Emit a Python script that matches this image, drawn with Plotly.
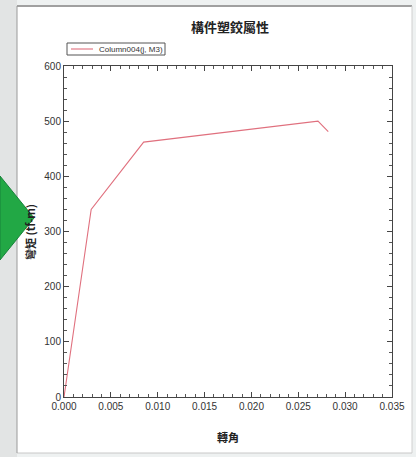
import plotly.graph_objects as go

# Data (rotation vs moment)
rotation = [0.0, 0.0029, 0.0085, 0.0271, 0.0282]
moment = [0, 340, 462, 500, 481]
series_name = "Column004(j, M3)"
chart_title = "構件塑鉸屬性"
x_title = "轉角"
y_title = "彎矩 (tf-m)"
x_ticks = [0.000, 0.005, 0.010, 0.015, 0.020, 0.025, 0.030, 0.035]
y_ticks = [0, 100, 200, 300, 400, 500, 600]
line_color = "#e0707e"

W, H = 416, 457
L, R, T, B = 64, 24, 66, 60
pw, ph = W - L - R, H - T - B

def px(x):
    return (x - L) / pw

def py(y):
    return (H - B - y) / ph

fig = go.Figure()
fig.add_trace(go.Scatter(
    x=rotation, y=moment, mode="lines", name=series_name,
    line=dict(color=line_color, width=1.1), showlegend=False,
))

shapes = [
    dict(type="rect", xref="paper", yref="paper", x0=px(17), x1=px(412), y0=py(6), y1=py(453),
         fillcolor="white", line=dict(width=0), layer="below"),
    dict(type="line", xref="paper", yref="paper", x0=px(17), x1=px(412), y0=py(6), y1=py(6),
         line=dict(color="#a0a0a0", width=2), layer="below"),
    dict(type="line", xref="paper", yref="paper", x0=px(412), x1=px(412), y0=py(6), y1=py(453),
         line=dict(color="#d0d0d0", width=1), layer="below"),
    dict(type="line", xref="paper", yref="paper", x0=px(17), x1=px(412), y0=py(453), y1=py(453),
         line=dict(color="#c8c8c8", width=1), layer="below"),
    dict(type="rect", xref="paper", yref="paper", x0=px(0), x1=px(17), y0=py(0), y1=py(457),
         fillcolor="#e2e4e4", line=dict(width=0), layer="below"),
    dict(type="line", xref="paper", yref="paper", x0=px(17), x1=px(17), y0=py(6), y1=py(453),
         line=dict(color="#9a9a9a", width=1), layer="below"),
    # legend box (drawn manually to match the compact original)
    dict(type="rect", xref="paper", yref="paper", x0=px(67), x1=px(165), y0=py(43), y1=py(55),
         fillcolor="white", line=dict(color="#555555", width=1), layer="above"),
    dict(type="line", xref="paper", yref="paper", x0=px(71), x1=px(93), y0=py(49), y1=py(49),
         line=dict(color=line_color, width=1.1), layer="above"),
    # green arrow
    dict(type="path", xref="paper", yref="paper",
         path=f"M {px(0)},{py(176)} L {px(34)},{py(218)} L {px(0)},{py(260)} Z",
         fillcolor="#22a845", line=dict(color="#17823a", width=1), layer="above"),
]

fig.update_layout(
    width=W, height=H,
    margin=dict(l=L, r=R, t=T, b=B),
    paper_bgcolor="#eef1f1",
    plot_bgcolor="white",
    shapes=shapes,
    showlegend=False,
    font=dict(family="Liberation Sans", color="#333333"),
    annotations=[
        dict(text=series_name, xref="paper", yref="paper", x=px(97), y=py(49),
             xanchor="left", yanchor="middle", showarrow=False,
             font=dict(family="Liberation Sans", size=8, color="#333333")),
        dict(text=f"<b>{chart_title}</b>", xref="paper", yref="paper", x=px(230), y=py(27),
             xanchor="center", yanchor="middle",
             showarrow=False, font=dict(family="Noto Sans CJK TC", size=13, color="#222222")),
        dict(text=f"<b>{x_title}</b>", xref="paper", yref="paper", x=px(228), y=py(437),
             xanchor="center", yanchor="middle",
             showarrow=False, font=dict(family="Noto Sans CJK TC", size=11, color="#222222")),
        dict(text=f"<b>{y_title}</b>", xref="paper", yref="paper", x=px(30), y=py(232), textangle=-90,
             xanchor="center", yanchor="middle",
             showarrow=False, font=dict(family="Noto Sans CJK TC", size=11, color="#222222")),
    ],
)

fig.update_xaxes(
    range=[0, 0.035], tickvals=x_ticks, ticktext=[f"{v:.3f}" for v in x_ticks],
    showgrid=False, zeroline=False, showline=True, linecolor="#444444", linewidth=1,
    mirror="allticks", ticks="inside", ticklen=5, tickcolor="#444444",
    minor=dict(ticks="inside", ticklen=3, dtick=0.001, tickcolor="#555555"),
    tickfont=dict(size=10, color="#333333"),
)
fig.update_yaxes(
    range=[0, 600], tickvals=y_ticks,
    showgrid=False, zeroline=False, showline=True, linecolor="#444444", linewidth=1,
    mirror="allticks", ticks="inside", ticklen=5, tickcolor="#444444",
    minor=dict(ticks="inside", ticklen=3, dtick=20, tickcolor="#555555"),
    tickfont=dict(size=10, color="#333333"),
)

fig.write_html("out.html", config={"displayModeBar": False},
               post_script="document.body.style.margin='0';")
